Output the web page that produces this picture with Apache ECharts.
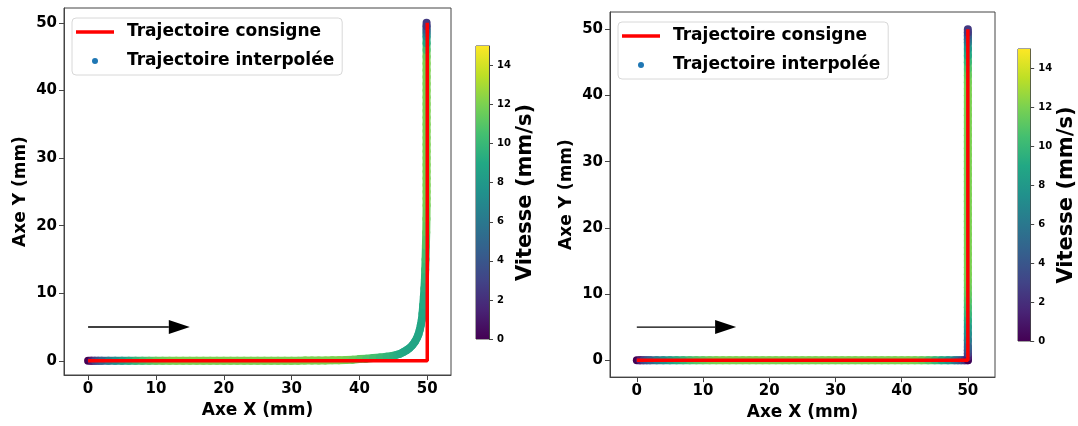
<!DOCTYPE html>
<html><head><meta charset="utf-8">
<script src="https://cdn.jsdelivr.net/npm/echarts@6/dist/echarts.min.js"></script>
<style>html,body{margin:0;padding:0;background:#fff}#c{width:1078px;height:426px}</style>
</head><body><div id="c"></div>
<script>
// ---------- data ----------
const consigneX = [0, 50, 50];
const consigneY = [0, 0, 50];
const arrowStart = [0, 5];
const arrowEnd = [15, 5];
const xTicks = [0, 10, 20, 30, 40, 50];
const yTicks = [0, 10, 20, 30, 40, 50];
const cbTicks = [0, 2, 4, 6, 8, 10, 12, 14];
const cbMax = 15;

// left plot: interpolated trajectory with rounded corner (x, y, speed)
const leftX = [0,0.5,1,1.5,2,3,4,5,6,7,8,9,10,11,12,
  13,14,15,16,17,18,19,20,21,22,23,24,25,26,27,28,29,30,31,32,33,34,35,36,37,38,39,40,41,42,43,44,
  45,45.5,46,46.5,47,47.4,47.8,48.2,48.5,48.7,48.9,
  49.05,49.2,49.3,49.4,49.5,49.58,49.65,49.7,49.75,49.8,49.85,49.88,49.9,
  49.9,49.9,49.9,49.9,49.9,49.9,49.9,49.9,49.9,49.9,49.9,49.9,49.9,49.9,49.9,49.9,49.9,49.9,49.9,49.9,49.9,
  49.9,49.9,49.9,49.9,49.9,49.9,49.9,49.9];
const leftY = [0,0,0,0,0,0,0,0,0,0,0,0,0,0,0,
  0,0,0,0,0,0,0,0,0,0,0,0,0,0,0,0,0,0,0.02,0.03,0.04,0.05,0.06,0.08,0.1,0.12,0.17,0.25,0.3,0.4,0.5,0.6,
  0.75,0.9,1.05,1.3,1.6,1.9,2.3,2.85,3.4,3.9,4.6,
  5.3,6.1,7,8.2,9.5,10.7,12,13.5,15,17,19,21,23,
  24,25,26,27,28,29,30,31,32,33,34,35,36,37,38,39,40,41,42,43,44,
  45,46,47,48,48.5,49,49.5,50];
const leftV = [0,1.5,3,4,5,6.5,7.5,8.5,9.3,10,10.6,11,11.4,11.7,11.9,
  12,12,12,12,12,12,12,12,12,12,12,12,12,12,12,12,12,12,12,12,12,12,12,12,12,11.8,11.5,11.2,10.8,10.5,10.1,9.8,
  9.5,9.3,9.1,9,8.9,8.8,8.8,8.8,8.8,8.8,8.8,
  8.8,8.9,9,9.1,9.2,9.4,9.7,10.1,10.5,11,11.4,11.7,11.9,
  12,12,12,12,12,12,12,12,12,12,12,12,12,12,12,12,12,12,12,12,12,
  11.5,10.5,9,7,5.8,4.5,2.5,0];

// right plot: interpolated trajectory with stop at the corner (x, y, speed)
const rightX = [0,0.5,1,1.5,2,3,4,5,6,7,8,9,10,11,12,
  13,14,15,16,17,18,19,20,21,22,23,24,25,26,27,28,29,30,31,32,33,34,35,36,37,38,39,40,41,
  42,43,44,45,46,47,48,48.5,49,49.5,50,
  50,50,50,50,50,50,50,50,50,50,50,50,50,50,
  50,50,50,50,50,50,50,50,50,50,50,50,50,50,50,50,50,50,50,50,50,50,50,50,50,50,50,50,50,
  50,50,50,50,50,50,50,50,50,50,50];
const rightY = [0,0,0,0,0,0,0,0,0,0,0,0,0,0,0,
  0,0,0,0,0,0,0,0,0,0,0,0,0,0,0,0,0,0,0,0,0,0,0,0,0,0,0,0,0,
  0,0,0,0,0,0,0,0,0,0,0,
  0.5,1,1.5,2,3,4,5,6,7,8,9,10,11,12,
  13,14,15,16,17,18,19,20,21,22,23,24,25,26,27,28,29,30,31,32,33,34,35,36,37,38,39,40,41,
  42,43,44,45,46,47,48,48.5,49,49.5,50];
const rightV = [0,1.5,3,4,5,6.5,7.5,8.5,9.3,10,10.6,11,11.4,11.7,11.9,
  12,12,12,12,12,12,12,12,12,12,12,12,12,12,12,12,12,12,12,12,12,12,12,12,12,12,12,12,12,
  11.8,11.4,10.8,10,9,7.8,6.2,5.2,4,2.5,0,
  1.5,3,4,5,6.5,7.5,8.5,9.3,10,10.6,11,11.4,11.7,11.9,
  12,12,12,12,12,12,12,12,12,12,12,12,12,12,12,12,12,12,12,12,12,12,12,12,12,12,12,12,12,
  11.8,11.4,10.8,10,9,7.8,6.2,5.2,4,2.5,0];

// ---------- styling ----------
const FONT = 'DejaVu Sans';
const viridis = ['#440154','#482475','#414487','#355f8d','#2a788e','#21918c','#22a884','#44bf70','#7ad151','#bddf26','#fde725'];
const SPINE = '#444';

// segments: [x, y, v, xNext, yNext]
function segments(xs, ys, vs) {
  return xs.map((x, i) => {
    const j = Math.min(i + 1, xs.length - 1);
    return [x, ys[i], vs[i], xs[j], ys[j]];
  });
}
function pairs(xs, ys) { return xs.map((x, i) => [x, ys[i]]); }

const boldText = (size) => ({ fontFamily: FONT, fontWeight: 'bold', fontSize: size, color: '#000' });

function mainXAxis(gi, min, max) {
  return {
    type: 'value', gridIndex: gi, min: min, max: max,
    name: 'Axe X (mm)', nameLocation: 'middle', nameGap: 26, nameTextStyle: boldText(17),
    axisLine: { show: true, onZero: false, lineStyle: { color: SPINE, width: 1 } },
    axisTick: { show: true, length: 5, customValues: xTicks, lineStyle: { color: SPINE } },
    axisLabel: { customValues: xTicks, margin: 7, fontFamily: FONT, fontWeight: 'bold', fontSize: 15, color: '#000' },
    splitLine: { show: false }
  };
}
function mainYAxis(gi, min, max) {
  return {
    type: 'value', gridIndex: gi, min: min, max: max,
    name: 'Axe Y (mm)', nameLocation: 'middle', nameRotate: 90, nameGap: 35, nameTextStyle: boldText(17),
    axisLine: { show: true, onZero: false, lineStyle: { color: SPINE, width: 1 } },
    axisTick: { show: true, length: 5, customValues: yTicks, lineStyle: { color: SPINE } },
    axisLabel: { customValues: yTicks, margin: 7, fontFamily: FONT, fontWeight: 'bold', fontSize: 15, color: '#000' },
    splitLine: { show: false }
  };
}
function cbXAxis(gi) { return { type: 'category', gridIndex: gi, data: ['v'], show: false }; }
function cbYAxis(gi) {
  return {
    type: 'value', gridIndex: gi, min: 0, max: cbMax, position: 'right',
    name: 'Vitesse (mm/s)', nameLocation: 'middle', nameRotate: 90, nameGap: 25, nameTextStyle: boldText(21),
    axisLine: { show: true, lineStyle: { color: SPINE, width: 1 } },
    axisTick: { show: true, length: 4, customValues: cbTicks, lineStyle: { color: SPINE } },
    axisLabel: { customValues: cbTicks, margin: 8, fontFamily: FONT, fontWeight: 'bold', fontSize: 10, color: '#000' },
    splitLine: { show: false }
  };
}
function legendFor(left, top) {
  return {
    left: left, top: top, orient: 'vertical', itemWidth: 38, itemHeight: 6, itemGap: 9,
    padding: [4, 8, 4, 4], backgroundColor: 'rgba(255,255,255,0.8)', borderColor: '#d8d8d8', borderWidth: 1, borderRadius: 4,
    textStyle: { fontFamily: FONT, fontWeight: 'bold', fontSize: 17, color: '#000', lineHeight: 20, padding: [0, 0, 0, 8] },
    selectedMode: false,
    data: [
      { name: 'Trajectoire consigne', icon: 'path://M0,0 M0,6 M0,1.3 L38,1.3 L38,4.7 L0,4.7 Z', itemStyle: { color: '#ff0000' } },
      { name: 'Trajectoire interpolée', icon: 'circle', itemStyle: { color: '#1f77b4' } }
    ]
  };
}
function bandSeries(ai, xs, ys, vs) {
  return {
    type: 'custom', name: 'Trajectoire interpolée', xAxisIndex: ai, yAxisIndex: ai, silent: true, z: 2,
    encode: { x: [0, 3], y: [1, 4] },
    data: segments(xs, ys, vs),
    renderItem: function (params, api) {
      const p0 = api.coord([api.value(0), api.value(1)]);
      const p1 = api.coord([api.value(3), api.value(4)]);
      return { type: 'line', shape: { x1: p0[0], y1: p0[1], x2: p1[0], y2: p1[1] },
        style: { stroke: api.visual('color'), lineWidth: 8, lineCap: 'round' } };
    }
  };
}
function arrowSeries(ai) {
  return {
    type: 'custom', name: 'arrow', xAxisIndex: ai, yAxisIndex: ai, silent: true, z: 4,
    data: [[arrowStart[0], arrowStart[1], arrowEnd[0], arrowEnd[1]]],
    renderItem: function (params, api) {
      const a = api.coord([api.value(0), api.value(1)]);
      const b = api.coord([api.value(2), api.value(3)]);
      const L = 21, W = 7;
      const dx = b[0] - a[0], dy = b[1] - a[1], len = Math.hypot(dx, dy);
      const ux = dx / len, uy = dy / len;
      const base = [b[0] - ux * L, b[1] - uy * L];
      return { type: 'group', children: [
        { type: 'line', shape: { x1: a[0], y1: a[1], x2: base[0], y2: base[1] }, style: { stroke: '#000', lineWidth: 1.4 } },
        { type: 'polygon', shape: { points: [b, [base[0] - uy * W, base[1] + ux * W], [base[0] + uy * W, base[1] - ux * W]] },
          style: { fill: '#000' } }
      ] };
    }
  };
}
const gradient = { type: 'linear', x: 0, y: 1, x2: 0, y2: 0,
  colorStops: viridis.map((c, i) => ({ offset: i / (viridis.length - 1), color: c })) };

const gridStyle = { show: true, borderColor: SPINE, borderWidth: 1, backgroundColor: 'transparent', containLabel: false };

const option = {
  animation: false,
  backgroundColor: '#fff',
  grid: [
    Object.assign({ left: 64, top: 8, width: 387, height: 367 }, gridStyle),
    Object.assign({ left: 610, top: 12, width: 385, height: 366 }, gridStyle),
    Object.assign({ left: 476, top: 46, width: 13, height: 293 }, gridStyle),
    Object.assign({ left: 1018, top: 49, width: 14, height: 292 }, gridStyle)
  ],
  xAxis: [ mainXAxis(0, -3.55, 53.5), mainXAxis(1, -4.05, 54.1), cbXAxis(2), cbXAxis(3) ],
  yAxis: [ mainYAxis(0, -2.1, 52.2), mainYAxis(1, -2.55, 52.6), cbYAxis(2), cbYAxis(3) ],
  visualMap: [{
    type: 'continuous', show: false, min: 0, max: cbMax, dimension: 2, seriesIndex: [0, 3],
    inRange: { color: viridis }
  }],
  legend: [ legendFor(72, 18), legendFor(618, 22) ],
  series: [
    bandSeries(0, leftX, leftY, leftV),
    { type: 'line', name: 'Trajectoire consigne', xAxisIndex: 0, yAxisIndex: 0, symbol: 'none',
      lineStyle: { color: '#ff0000', width: 3.5 }, itemStyle: { color: '#ff0000' }, data: pairs(consigneX, consigneY), z: 3, silent: true },
    arrowSeries(0),
    bandSeries(1, rightX, rightY, rightV),
    { type: 'line', name: 'Trajectoire consigne', xAxisIndex: 1, yAxisIndex: 1, symbol: 'none',
      lineStyle: { color: '#ff0000', width: 3.5 }, itemStyle: { color: '#ff0000' }, data: pairs(consigneX, consigneY), z: 3, silent: true },
    arrowSeries(1),
    { type: 'bar', name: 'cb0', xAxisIndex: 2, yAxisIndex: 2, barWidth: '100%', data: [cbMax],
      itemStyle: { color: gradient }, silent: true },
    { type: 'bar', name: 'cb1', xAxisIndex: 3, yAxisIndex: 3, barWidth: '100%', data: [cbMax],
      itemStyle: { color: gradient }, silent: true }
  ]
};

const chart = echarts.init(document.getElementById('c'), null, { renderer: 'canvas' });
chart.setOption(option);
</script>
</body></html>
